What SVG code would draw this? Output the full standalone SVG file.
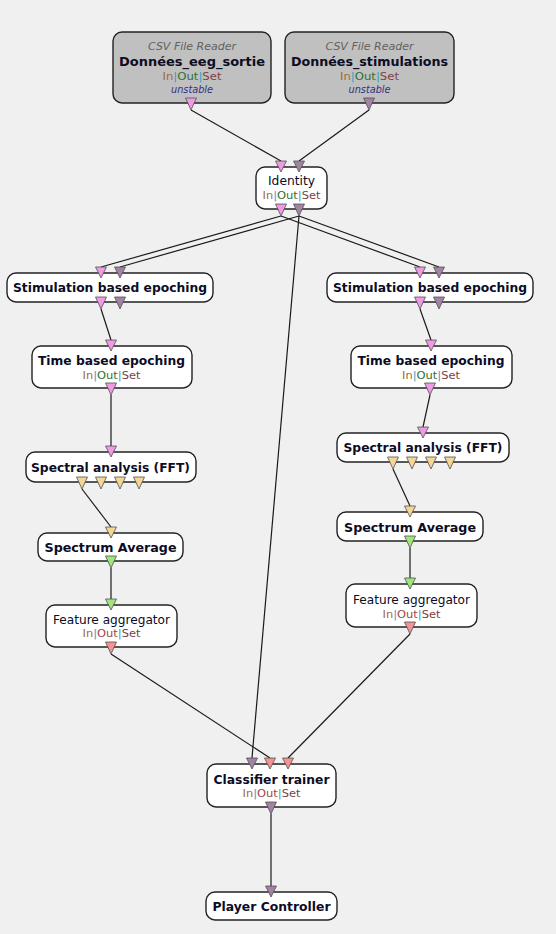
<svg xmlns="http://www.w3.org/2000/svg" width="556" height="934" viewBox="0 0 556 934">
<style>
.bg{fill:#f0f0f0}
.box{fill:#ffffff;stroke:#222222;stroke-width:1.4}
.gbox{fill:#c0c0c0;stroke:#222222;stroke-width:1.4}
.t{font-family:"DejaVu Sans","Liberation Sans",Arial,sans-serif;fill:#0c0c24;text-anchor:middle}
.b{font-weight:bold;font-size:12.5px}
.r{font-size:12px}
.s{font-size:11px}
.it{font-style:italic;font-size:11px}
.cat{fill:#606060}
.uns{fill:#303080}
.cin{fill:#a06a34}
.cp{fill:#30a0c8}
.cout{fill:#307030}
.cred{fill:#a04848}
.cset{fill:#804040}
.p{stroke:#505050;stroke-width:0.8}
.pk{fill:#ee9ae4}
.pu{fill:#a383a3}
.ye{fill:#f3d596}
.gr{fill:#a0e47c}
.sa{fill:#f29494}
.ln{stroke:#1a1a1a;stroke-width:1.2;fill:none}
</style>
<rect class="bg" x="0" y="0" width="556" height="934"/>
<g id="connectors">
<line class="ln" x1="191" y1="110" x2="281" y2="161"/>
<line class="ln" x1="369" y1="110" x2="299" y2="161"/>
<line class="ln" x1="281" y1="216" x2="101" y2="267"/>
<line class="ln" x1="299" y1="216" x2="120" y2="267"/>
<line class="ln" x1="281" y1="216" x2="420" y2="267"/>
<line class="ln" x1="299" y1="216" x2="439" y2="267"/>
<line class="ln" x1="299" y1="216" x2="252" y2="758"/>
<line class="ln" x1="101" y1="309" x2="111" y2="340"/>
<line class="ln" x1="420" y1="309" x2="431" y2="340"/>
<line class="ln" x1="111" y1="395" x2="111" y2="446"/>
<line class="ln" x1="430" y1="395" x2="423" y2="427"/>
<line class="ln" x1="82" y1="489" x2="111" y2="527"/>
<line class="ln" x1="393" y1="469" x2="410" y2="506"/>
<line class="ln" x1="111" y1="568" x2="111" y2="599"/>
<line class="ln" x1="410" y1="548" x2="410" y2="578"/>
<line class="ln" x1="111" y1="654" x2="270" y2="758"/>
<line class="ln" x1="410" y1="634" x2="288" y2="758"/>
<line class="ln" x1="271" y1="814" x2="271" y2="886"/>
</g>
<g id="csv1">
<rect class="gbox" x="113" y="32" width="158" height="71" rx="9"/>
<text class="t it cat" x="192" y="50" textLength="88" lengthAdjust="spacingAndGlyphs">CSV File Reader</text>
<text class="t b" x="192" y="66" textLength="146" lengthAdjust="spacingAndGlyphs">Données_eeg_sortie</text>
<text class="t s" x="192" y="80" textLength="59" lengthAdjust="spacingAndGlyphs"><tspan class="cin">In</tspan><tspan class="cp">|</tspan><tspan class="cout">Out</tspan><tspan class="cp">|</tspan><tspan class="cset">Set</tspan></text>
<text class="t it uns" x="192" y="93" textLength="42" lengthAdjust="spacingAndGlyphs">unstable</text>
<polygon class="p pk" points="185.5,98 196.5,98 191,110"/>
</g>
<g id="csv2">
<rect class="gbox" x="285" y="32" width="169" height="71" rx="9"/>
<text class="t it cat" x="369.5" y="50" textLength="88" lengthAdjust="spacingAndGlyphs">CSV File Reader</text>
<text class="t b" x="369.5" y="66" textLength="157" lengthAdjust="spacingAndGlyphs">Données_stimulations</text>
<text class="t s" x="369.5" y="80" textLength="59" lengthAdjust="spacingAndGlyphs"><tspan class="cin">In</tspan><tspan class="cp">|</tspan><tspan class="cout">Out</tspan><tspan class="cp">|</tspan><tspan class="cset">Set</tspan></text>
<text class="t it uns" x="369.5" y="93" textLength="42" lengthAdjust="spacingAndGlyphs">unstable</text>
<polygon class="p pu" points="363.5,98 374.5,98 369,110"/>
</g>
<g id="identity">
<rect class="box" x="256" y="167" width="71" height="42" rx="9"/>
<text class="t r" x="291.5" y="185" textLength="47" lengthAdjust="spacingAndGlyphs">Identity</text>
<text class="t s" x="291.5" y="199" textLength="58" lengthAdjust="spacingAndGlyphs"><tspan class="cin">In</tspan><tspan class="cp">|</tspan><tspan class="cout">Out</tspan><tspan class="cp">|</tspan><tspan class="cset">Set</tspan></text>
<polygon class="p pk" points="275.5,161 286.5,161 281,172"/>
<polygon class="p pu" points="293.5,161 304.5,161 299,172"/>
<polygon class="p pk" points="275.5,204 286.5,204 281,216"/>
<polygon class="p pu" points="293.5,204 304.5,204 299,216"/>
</g>
<g id="sbe-left">
<rect class="box" x="7" y="273" width="206" height="29" rx="9"/>
<text class="t b" x="110" y="292" textLength="194" lengthAdjust="spacingAndGlyphs">Stimulation based epoching</text>
<polygon class="p pk" points="95.5,267 106.5,267 101,278"/>
<polygon class="p pu" points="114.5,267 125.5,267 120,278"/>
<polygon class="p pk" points="95.5,297 106.5,297 101,309"/>
<polygon class="p pu" points="114.5,297 125.5,297 120,309"/>
</g>
<g id="sbe-right">
<rect class="box" x="327" y="273" width="206" height="29" rx="9"/>
<text class="t b" x="430" y="292" textLength="194" lengthAdjust="spacingAndGlyphs">Stimulation based epoching</text>
<polygon class="p pk" points="414.5,267 425.5,267 420,278"/>
<polygon class="p pu" points="433.5,267 444.5,267 439,278"/>
<polygon class="p pk" points="414.5,297 425.5,297 420,309"/>
<polygon class="p pu" points="433.5,297 444.5,297 439,309"/>
</g>
<g id="tbe-left">
<rect class="box" x="32" y="346" width="160" height="42" rx="9"/>
<text class="t b" x="111.5" y="365" textLength="147" lengthAdjust="spacingAndGlyphs">Time based epoching</text>
<text class="t s" x="111.5" y="379" textLength="58" lengthAdjust="spacingAndGlyphs"><tspan class="cin">In</tspan><tspan class="cp">|</tspan><tspan class="cout">Out</tspan><tspan class="cp">|</tspan><tspan class="cset">Set</tspan></text>
<polygon class="p pk" points="105.5,340 116.5,340 111,351"/>
<polygon class="p pk" points="105.5,383 116.5,383 111,395"/>
</g>
<g id="tbe-right">
<rect class="box" x="351" y="346" width="161" height="42" rx="9"/>
<text class="t b" x="431" y="365" textLength="147" lengthAdjust="spacingAndGlyphs">Time based epoching</text>
<text class="t s" x="431" y="379" textLength="58" lengthAdjust="spacingAndGlyphs"><tspan class="cin">In</tspan><tspan class="cp">|</tspan><tspan class="cout">Out</tspan><tspan class="cp">|</tspan><tspan class="cset">Set</tspan></text>
<polygon class="p pk" points="425.5,340 436.5,340 431,351"/>
<polygon class="p pk" points="424.5,383 435.5,383 430,395"/>
</g>
<g id="fft-left">
<rect class="box" x="26" y="452" width="170" height="30" rx="9"/>
<text class="t b" x="110.5" y="472" textLength="159" lengthAdjust="spacingAndGlyphs">Spectral analysis (FFT)</text>
<polygon class="p pk" points="105.5,446 116.5,446 111,457"/>
<polygon class="p ye" points="76.5,477 87.5,477 82,489"/>
<polygon class="p ye" points="95.5,477 106.5,477 101,489"/>
<polygon class="p ye" points="114.5,477 125.5,477 120,489"/>
<polygon class="p ye" points="133.5,477 144.5,477 139,489"/>
</g>
<g id="fft-right">
<rect class="box" x="337" y="433" width="172" height="29" rx="9"/>
<text class="t b" x="423" y="452" textLength="159" lengthAdjust="spacingAndGlyphs">Spectral analysis (FFT)</text>
<polygon class="p pk" points="417.5,427 428.5,427 423,438"/>
<polygon class="p ye" points="387.5,457 398.5,457 393,469"/>
<polygon class="p ye" points="406.5,457 417.5,457 412,469"/>
<polygon class="p ye" points="425.5,457 436.5,457 431,469"/>
<polygon class="p ye" points="444.5,457 455.5,457 450,469"/>
</g>
<g id="avg-left">
<rect class="box" x="38" y="533" width="145" height="28" rx="9"/>
<text class="t b" x="110.5" y="552" textLength="132" lengthAdjust="spacingAndGlyphs">Spectrum Average</text>
<polygon class="p ye" points="105.5,527 116.5,527 111,538"/>
<polygon class="p gr" points="105.5,556 116.5,556 111,568"/>
</g>
<g id="avg-right">
<rect class="box" x="337" y="512" width="146" height="29" rx="9"/>
<text class="t b" x="410" y="532" textLength="132" lengthAdjust="spacingAndGlyphs">Spectrum Average</text>
<polygon class="p ye" points="404.5,506 415.5,506 410,517"/>
<polygon class="p gr" points="404.5,536 415.5,536 410,548"/>
</g>
<g id="fa-left">
<rect class="box" x="46" y="605" width="131" height="42" rx="9"/>
<text class="t r" x="111.5" y="624" textLength="117" lengthAdjust="spacingAndGlyphs">Feature aggregator</text>
<text class="t s" x="111.5" y="637" textLength="58" lengthAdjust="spacingAndGlyphs"><tspan class="cin">In</tspan><tspan class="cp">|</tspan><tspan class="cred">Out</tspan><tspan class="cp">|</tspan><tspan class="cset">Set</tspan></text>
<polygon class="p gr" points="105.5,599 116.5,599 111,610"/>
<polygon class="p sa" points="105.5,642 116.5,642 111,654"/>
</g>
<g id="fa-right">
<rect class="box" x="346" y="584" width="131" height="43" rx="9"/>
<text class="t r" x="411.5" y="604" textLength="117" lengthAdjust="spacingAndGlyphs">Feature aggregator</text>
<text class="t s" x="411.5" y="618" textLength="58" lengthAdjust="spacingAndGlyphs"><tspan class="cin">In</tspan><tspan class="cp">|</tspan><tspan class="cred">Out</tspan><tspan class="cp">|</tspan><tspan class="cset">Set</tspan></text>
<polygon class="p gr" points="404.5,578 415.5,578 410,589"/>
<polygon class="p sa" points="404.5,622 415.5,622 410,634"/>
</g>
<g id="classifier">
<rect class="box" x="207" y="764" width="129" height="43" rx="9"/>
<text class="t b" x="271.5" y="784" textLength="116" lengthAdjust="spacingAndGlyphs">Classifier trainer</text>
<text class="t s" x="271.5" y="797" textLength="58" lengthAdjust="spacingAndGlyphs"><tspan class="cin">In</tspan><tspan class="cp">|</tspan><tspan class="cred">Out</tspan><tspan class="cp">|</tspan><tspan class="cset">Set</tspan></text>
<polygon class="p pu" points="246.5,758 257.5,758 252,769"/>
<polygon class="p sa" points="264.5,758 275.5,758 270,769"/>
<polygon class="p sa" points="282.5,758 293.5,758 288,769"/>
<polygon class="p pu" points="265.5,802 276.5,802 271,814"/>
</g>
<g id="player">
<rect class="box" x="206" y="892" width="131" height="28" rx="9"/>
<text class="t b" x="271.5" y="911" textLength="118" lengthAdjust="spacingAndGlyphs">Player Controller</text>
<polygon class="p pu" points="265.5,886 276.5,886 271,897"/>
</g>
</svg>
